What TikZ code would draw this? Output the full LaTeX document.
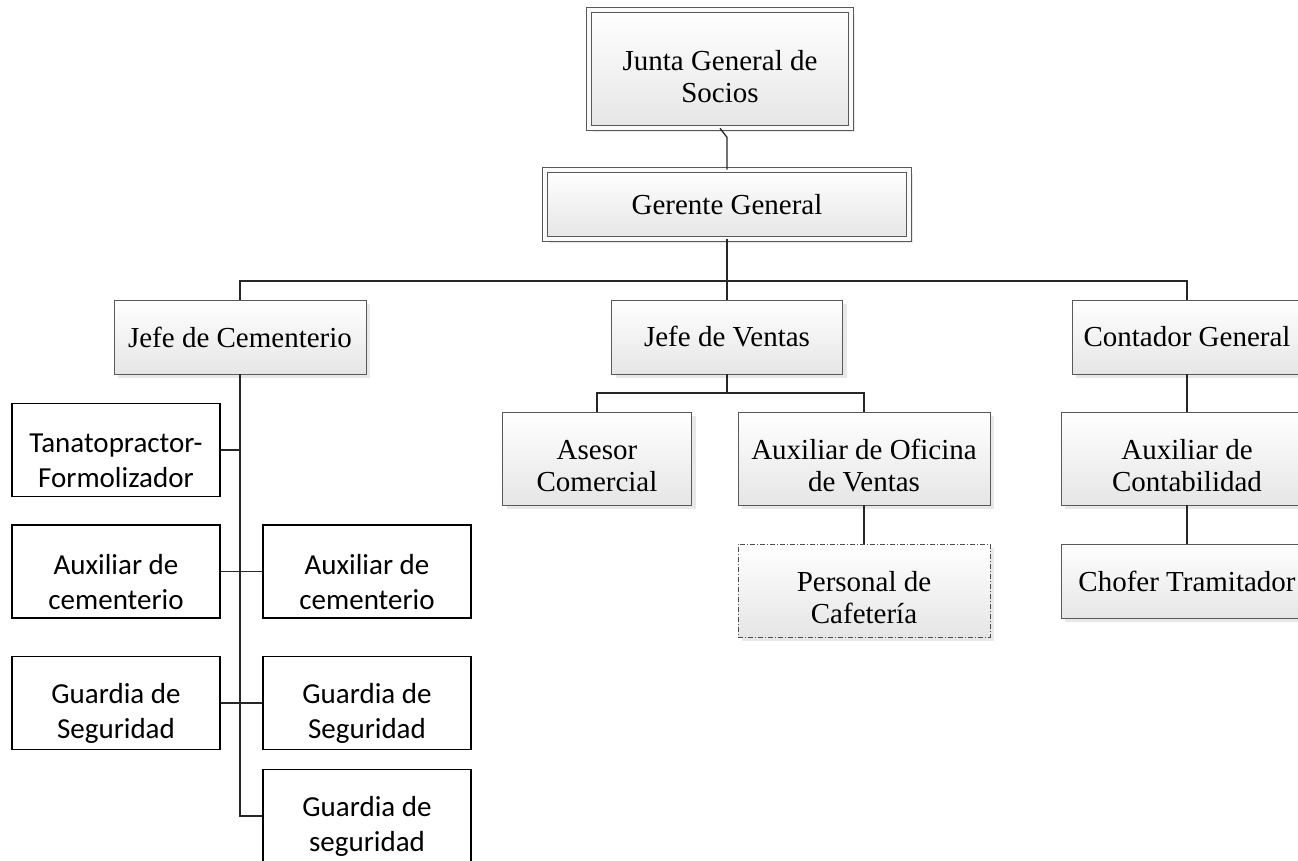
\documentclass[tikz,border=0pt]{standalone}
\usepackage{fontspec}
\setmainfont{Liberation Serif}
\newfontfamily\calibri{Carlito}
\usetikzlibrary{shadows}

\begin{document}
\begin{tikzpicture}[x=1pt,y=-1pt]
\tikzset{cargo/.style={draw=gray!70!black,line width=0.8pt,top color=white,bottom color=gray!20,drop shadow={shadow xshift=4pt,shadow yshift=-4pt,fill=gray!35},align=center,inner sep=0pt,font=\fontsize{29}{32}\selectfont}}
\tikzset{jefatura/.style={cargo,double=white!96!gray,double distance=4pt,line width=0.6pt}}
\tikzset{eventual/.style={cargo,draw=gray!60!black,dash pattern=on 5pt off 2pt on 1pt off 2pt}}
\tikzset{apoyo/.style={draw=black,line width=1.2pt,fill=white,align=center,inner sep=0pt,minimum width=208,minimum height=93,font=\calibri\fontsize{29}{35}\selectfont,execute at begin node={\rule{0pt}{76pt}}}}
\tikzset{dosl/.style={execute at begin node={\rule{0pt}{67pt}}}}
\tikzset{enlace/.style={line width=1.3pt,draw=black!85}}

\path[use as bounding box] (0,0) rectangle (1298,860);
\clip (0,0) rectangle (1298,860);

% direccion
\node[jefatura,dosl,minimum width=262,minimum height=118] (junta) at (720,69) {Junta General de\\Socios};
\node[jefatura,minimum width=364,minimum height=69] (gerente) at (727,204.5) {Gerente General};

% jefaturas
\node[cargo,minimum width=252,minimum height=74] (jefeCem) at (240,337) {Jefe de Cementerio};
\node[cargo,minimum width=231,minimum height=74] (jefeVen) at (727,337) {Jefe de Ventas};
\node[cargo,minimum width=230,minimum height=74] (contador) at (1187,337) {Contador General};

% ventas y contabilidad
\node[cargo,dosl,minimum width=189,minimum height=93] (asesor) at (597,458.5) {Asesor\\Comercial};
\node[cargo,dosl,minimum width=252,minimum height=93] (auxOfi) at (864,458.5) {Auxiliar de Oficina\\de Ventas};
\node[eventual,dosl,minimum width=252,minimum height=93] (cafeteria) at (864,590.5) {Personal de\\Cafetería};
\node[cargo,dosl,minimum width=252,minimum height=93] (auxCon) at (1187,458.5) {Auxiliar de\\Contabilidad};
\node[cargo,minimum width=252,minimum height=74] (chofer) at (1187,581) {Chofer Tramitador};

% cementerio
\node[apoyo] (tanato) at (116,450) {Tanatopractor-\\Formolizador};
\node[apoyo] (auxCem1) at (116,571.5) {Auxiliar de\\cementerio};
\node[apoyo] (auxCem2) at (367,571.5) {Auxiliar de\\cementerio};
\node[apoyo] (guardia1) at (116,703) {Guardia de\\Seguridad};
\node[apoyo] (guardia2) at (367,703) {Guardia de\\Seguridad};
\node[apoyo] (guardia3) at (367,816) {Guardia de\\seguridad};

% conexiones
\coordinate (kink) at ([yshift=-9pt]junta.south -| gerente.north);
\draw[enlace] (junta.south) -- (kink) -- (gerente.north);
\coordinate (bus) at (727,281);
\draw[enlace] (gerente.south) -- (jefeVen.north);
\draw[enlace] (jefeCem.north) |- (bus) -| (contador.north);
\coordinate (busV) at (727,393);
\draw[enlace] (jefeVen.south) -- (busV);
\draw[enlace] (asesor.north) |- (busV) -| (auxOfi.north);
\draw[enlace] (auxOfi.south) -- (cafeteria.north);
\draw[enlace] (contador.south) -- (auxCon.north);
\draw[enlace] (auxCon.south) -- (chofer.north);
\coordinate (fin) at (240,816);
\draw[enlace] (jefeCem.south) -- (fin) -- (guardia3.west);
\draw[enlace] (tanato.east) -- (tanato.east -| fin);
\draw[enlace] (auxCem1.east) -- (auxCem2.west);
\draw[enlace] (guardia1.east) -- (guardia2.west);

\end{tikzpicture}
\end{document}
